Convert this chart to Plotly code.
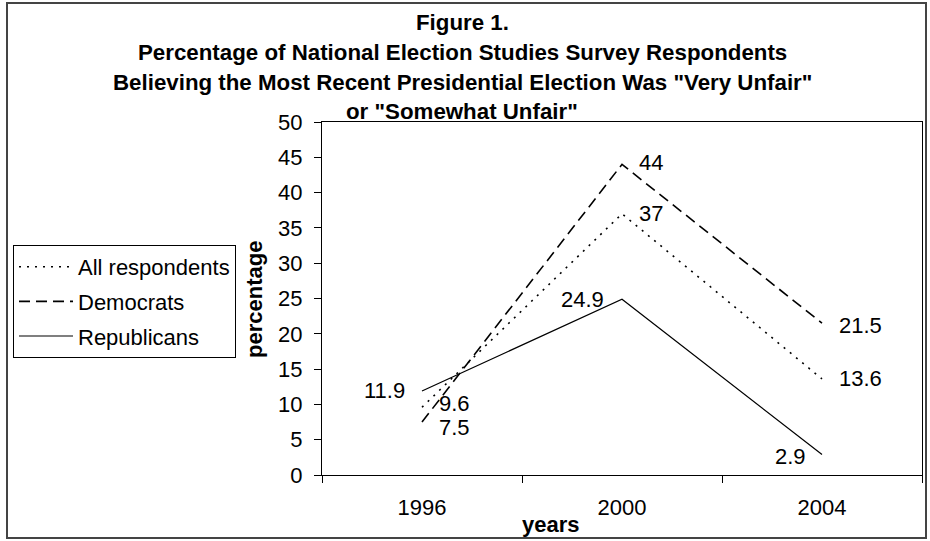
import plotly.graph_objects as go

years = ["1996", "2000", "2004"]
all_resp = [9.6, 37, 13.6]
democrats = [7.5, 44, 21.5]
republicans = [11.9, 24.9, 2.9]
series_names = ["All respondents", "Democrats", "Republicans"]
y_ticks = list(range(0, 51, 5))

title_lines = [
    "Figure 1.",
    "Percentage of National Election Studies Survey Respondents",
    'Believing the Most Recent Presidential Election Was "Very Unfair"',
    'or "Somewhat Unfair"',
]

W, H = 930, 541
L, R, T, B = 322, 8, 122, 66
PW, PH = W - L - R, H - T - B

def px_x(px):
    return (px - L) / PW

def px_y(py):
    return (H - B - py) / PH

FONT = "Liberation Sans, Arial, sans-serif"

fig = go.Figure()
styles = [
    dict(dash="2px,6px", width=1.6),
    dict(dash="11px,6px", width=1.6),
    dict(dash="solid", width=1.2),
]
for name, vals, st, g in zip(series_names, [all_resp, democrats, republicans], styles, ["a", "b", "c"]):
    fig.add_trace(go.Scatter(
        x=years, y=vals, mode="lines", name=name, legendgroup=g,
        line=dict(color="black", width=st["width"], dash=st["dash"]),
        hoverinfo="x+y",
    ))

# data labels: (xanchor, xshift, yshift) per point, per series
label_pos = {
    0: [("left", 15, 4), ("left", 15, -5), ("right", -15, 0)],
    1: [("left", 15, 0), ("left", 15, 2), ("right", -16, 0)],
    2: [("left", 15, 0), ("left", 15, -2), ("right", -14, -2)],
}
for i, yr in enumerate(years):
    for s, vals in enumerate([all_resp, democrats, republicans]):
        xa, xs, ys = label_pos[i][s]
        fig.add_annotation(
            x=i, y=vals[i], text=f"{vals[i]:g}", showarrow=False,
            xref="x", yref="y",
            xanchor=xa, yanchor="middle", xshift=xs, yshift=ys,
            font=dict(family=FONT, size=22, color="black"),
        )

# title lines
title_y = [22, 52, 82, 112]
for txt, yy in zip(title_lines, title_y):
    fig.add_annotation(
        x=px_x(462), y=px_y(yy), xref="paper", yref="paper", text=f"<b>{txt}</b>",
        showarrow=False, xanchor="center", yanchor="middle",
        font=dict(family=FONT, size=22.3, color="black"),
    )

# axis titles
fig.add_annotation(x=px_x(254), y=px_y(300), xref="paper", yref="paper",
                   text="<b>percentage</b>", textangle=-90, showarrow=False,
                   xanchor="center", yanchor="middle",
                   font=dict(family=FONT, size=22, color="black"))
fig.add_annotation(x=px_x(551), y=px_y(524), xref="paper", yref="paper",
                   text="<b>years</b>", showarrow=False,
                   xanchor="center", yanchor="middle",
                   font=dict(family=FONT, size=22, color="black"))

# outer frame
fig.add_shape(type="rect", xref="paper", yref="paper",
              x0=px_x(7), x1=px_x(926), y0=px_y(538), y1=px_y(3),
              line=dict(color="#444", width=2), layer="below")

fig.update_layout(
    width=W, height=H,
    margin=dict(l=L, r=R, t=T, b=B, pad=0),
    paper_bgcolor="white", plot_bgcolor="white",
    font=dict(family=FONT, size=22, color="black"),
    showlegend=True,
    legend=dict(
        xref="container", yref="container",
        x=13 / W, y=1 - 245 / H, xanchor="left", yanchor="top",
        bordercolor="black", borderwidth=1, bgcolor="white",
        font=dict(family=FONT, size=22, color="black"),
        tracegroupgap=3, traceorder="grouped", itemwidth=54,
    ),
    xaxis=dict(
        type="category", range=[-0.5, 2.5], tickson="boundaries",
        ticks="outside", ticklen=7, tickcolor="black", tickwidth=1,
        showline=True, linecolor="black", linewidth=1.3, mirror=True,
        showgrid=False, zeroline=False, ticklabelstandoff=12,
        tickfont=dict(family=FONT, size=22, color="black"),
        fixedrange=True,
    ),
    yaxis=dict(
        range=[0, 50], tickvals=y_ticks,
        ticks="outside", ticklen=7, tickcolor="black", tickwidth=1,
        showline=True, linecolor="black", linewidth=1.3, mirror=True,
        showgrid=False, zeroline=False, ticklabelstandoff=7,
        tickfont=dict(family=FONT, size=22, color="black"),
        fixedrange=True,
    ),
)

fig.write_html(
    "out.html",
    config={"displayModeBar": False},
    post_script="document.body.style.margin='0';document.body.style.overflow='hidden';",
)
